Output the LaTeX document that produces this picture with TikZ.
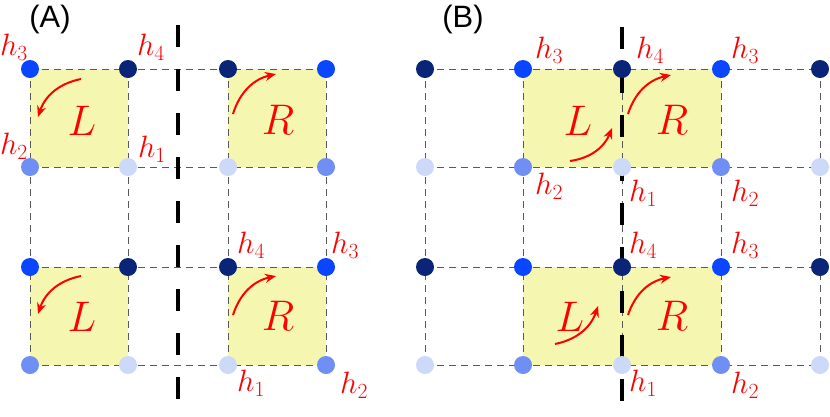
\RequirePackage{fix-cm}
\documentclass[tikz,border=0pt]{standalone}
\usepackage{fontspec}
\newfontfamily\labfont{Liberation Sans}
\usetikzlibrary{arrows.meta}
\definecolor{cbright}{HTML}{0A46FF}
\definecolor{cdark}{HTML}{0A2478}
\definecolor{cmed}{HTML}{6F8FF5}
\definecolor{clight}{HTML}{CDD9F8}
\definecolor{pyel}{HTML}{F5F7B0}
\tikzset{
 grid/.style={draw=black!65, dash pattern=on 7bp off 5bp, line width=0.7bp},
 cut/.style={draw=black, line width=3.5bp, dash pattern=on 22bp off 22bp},
 plaq/.style={fill=pyel},
 dot/.style={circle, inner sep=0pt, minimum size=18bp, fill=#1},
 hl/.style={text=red, font=\fontsize{31}{31}\selectfont, inner sep=0pt},
 big/.style={text=red, font=\fontsize{43}{43}\selectfont, inner sep=0pt},
 panel/.style={font=\labfont\fontsize{31}{31}\selectfont, inner sep=0pt},
 rot/.style={red, line width=2bp, -{Stealth[length=11bp,width=9bp]}},
}
\begin{document}
\begin{tikzpicture}[x=1bp,y=-1bp]
\useasboundingbox (0,0) rectangle (830,416);
% plaquettes
\fill[plaq] (30,69) rectangle (128,167);
\fill[plaq] (228,69) rectangle (326,167);
\fill[plaq] (30,267) rectangle (128,365);
\fill[plaq] (228,267) rectangle (326,365);
\fill[plaq] (523,69) rectangle (721,167);
\fill[plaq] (523,267) rectangle (721,365);
% coordinates
\foreach \n/\x in {0/30,1/128,2/228,3/326}{
 \foreach \m/\y in {0/69,1/167,2/267,3/365}{ \coordinate (a\n\m) at (\x,\y); } }
\foreach \n/\x in {0/425,1/523,2/622,3/721,4/820}{
 \foreach \m/\y in {0/69,1/167,2/267,3/365}{ \coordinate (b\n\m) at (\x,\y); } }
% grid A
\foreach \m in {0,...,3}{ \draw[grid] (a0\m) -- (a3\m); }
\foreach \n in {0,...,3}{ \draw[grid] (a\n0) -- (a\n3); }
% grid B
\foreach \m in {0,...,3}{ \draw[grid] (b0\m) -- (b4\m); }
\foreach \n in {0,...,4}{ \draw[grid] (b\n0) -- (b\n3); }
% cuts
\coordinate (ca1) at (178,25); \coordinate (ca2) at (178,416);
\coordinate (cb1) at (622,27); \coordinate (cb2) at (622,416);
\draw[cut] (ca1) -- (ca2);
\draw[cut] (cb1) -- (cb2);
% dots A
\foreach \n/\c in {0/cbright,1/cdark,2/cdark,3/cbright}{
 \node[dot=\c] (da\n0) at (a\n0) {}; \node[dot=\c] (da\n2) at (a\n2) {}; }
\foreach \n/\c in {0/cmed,1/clight,2/clight,3/cmed}{
 \node[dot=\c] (da\n1) at (a\n1) {}; \node[dot=\c] (da\n3) at (a\n3) {}; }
% dots B
\foreach \n/\c in {0/cdark,1/cbright,2/cdark,3/cbright,4/cdark}{
 \node[dot=\c] (db\n0) at (b\n0) {}; \node[dot=\c] (db\n2) at (b\n2) {}; }
\foreach \n/\c in {0/clight,1/cmed,2/clight,3/cmed,4/clight}{
 \node[dot=\c] (db\n1) at (b\n1) {}; \node[dot=\c] (db\n3) at (b\n3) {}; }
% panel labels
\node[panel] (pA) at (50,20) {(A)};
\node[panel] (pB) at (463,20) {(B)};
% L / R
\node[big] (LA1) at (82,121) {$L$};
\node[big] (RA1) at (278,120) {$R$};
\node[big] (LA2) at (82,317) {$L$};
\node[big] (RA2) at (278,316) {$R$};
\node[big] (LB1) at (578,121) {$L$};
\node[big] (RB1) at (672,120) {$R$};
\node[big] (LB2) at (570,317) {$L$};
\node[big] (RB2) at (672,316) {$R$};
% arrows
\coordinate (s1) at (81,79); \coordinate (e1) at (38,117);
\draw[rot] (s1) to[bend right=30] (e1);
\coordinate (s2) at (81,276); \coordinate (e2) at (38,314);
\draw[rot] (s2) to[bend right=30] (e2);
\coordinate (s3) at (233,114); \coordinate (e3) at (276,74);
\draw[rot] (s3) to[bend left=30] (e3);
\coordinate (s4) at (233,315); \coordinate (e4) at (276,276);
\draw[rot] (s4) to[bend left=30] (e4);
\coordinate (s5) at (570,161); \coordinate (e5) at (612,128);
\draw[rot] (s5) to[bend right=30] (e5);
\coordinate (s6) at (628,114); \coordinate (e6) at (671,75);
\draw[rot] (s6) to[bend left=30] (e6);
\coordinate (s7) at (555,344); \coordinate (e7) at (598,306);
\draw[rot] (s7) to[bend right=30] (e7);
\coordinate (s8) at (628,315); \coordinate (e8) at (671,277);
\draw[rot] (s8) to[bend left=30] (e8);
% h labels A
\node[hl] (ha3) at (14,47) {$h_3$};
\node[hl] (ha4) at (151,47) {$h_4$};
\node[hl] (ha2) at (14,146) {$h_2$};
\node[hl] (ha1) at (152,149) {$h_1$};
\node[hl] (hb4) at (251,245) {$h_4$};
\node[hl] (hb3) at (345,245) {$h_3$};
\node[hl] (hb1) at (251,383) {$h_1$};
\node[hl] (hb2) at (354,385) {$h_2$};
% h labels B
\node[hl] (hc3) at (549,50) {$h_3$};
\node[hl] (hc4) at (650,50) {$h_4$};
\node[hl] (hc3b) at (745,50) {$h_3$};
\node[hl] (hc2) at (549,186) {$h_2$};
\node[hl] (hc1) at (643,193) {$h_1$};
\node[hl] (hc2b) at (745,193) {$h_2$};
\node[hl] (hd4) at (643,245) {$h_4$};
\node[hl] (hd3) at (745,245) {$h_3$};
\node[hl] (hd1) at (643,383) {$h_1$};
\node[hl] (hd2) at (745,385) {$h_2$};
\end{tikzpicture}
\end{document}
